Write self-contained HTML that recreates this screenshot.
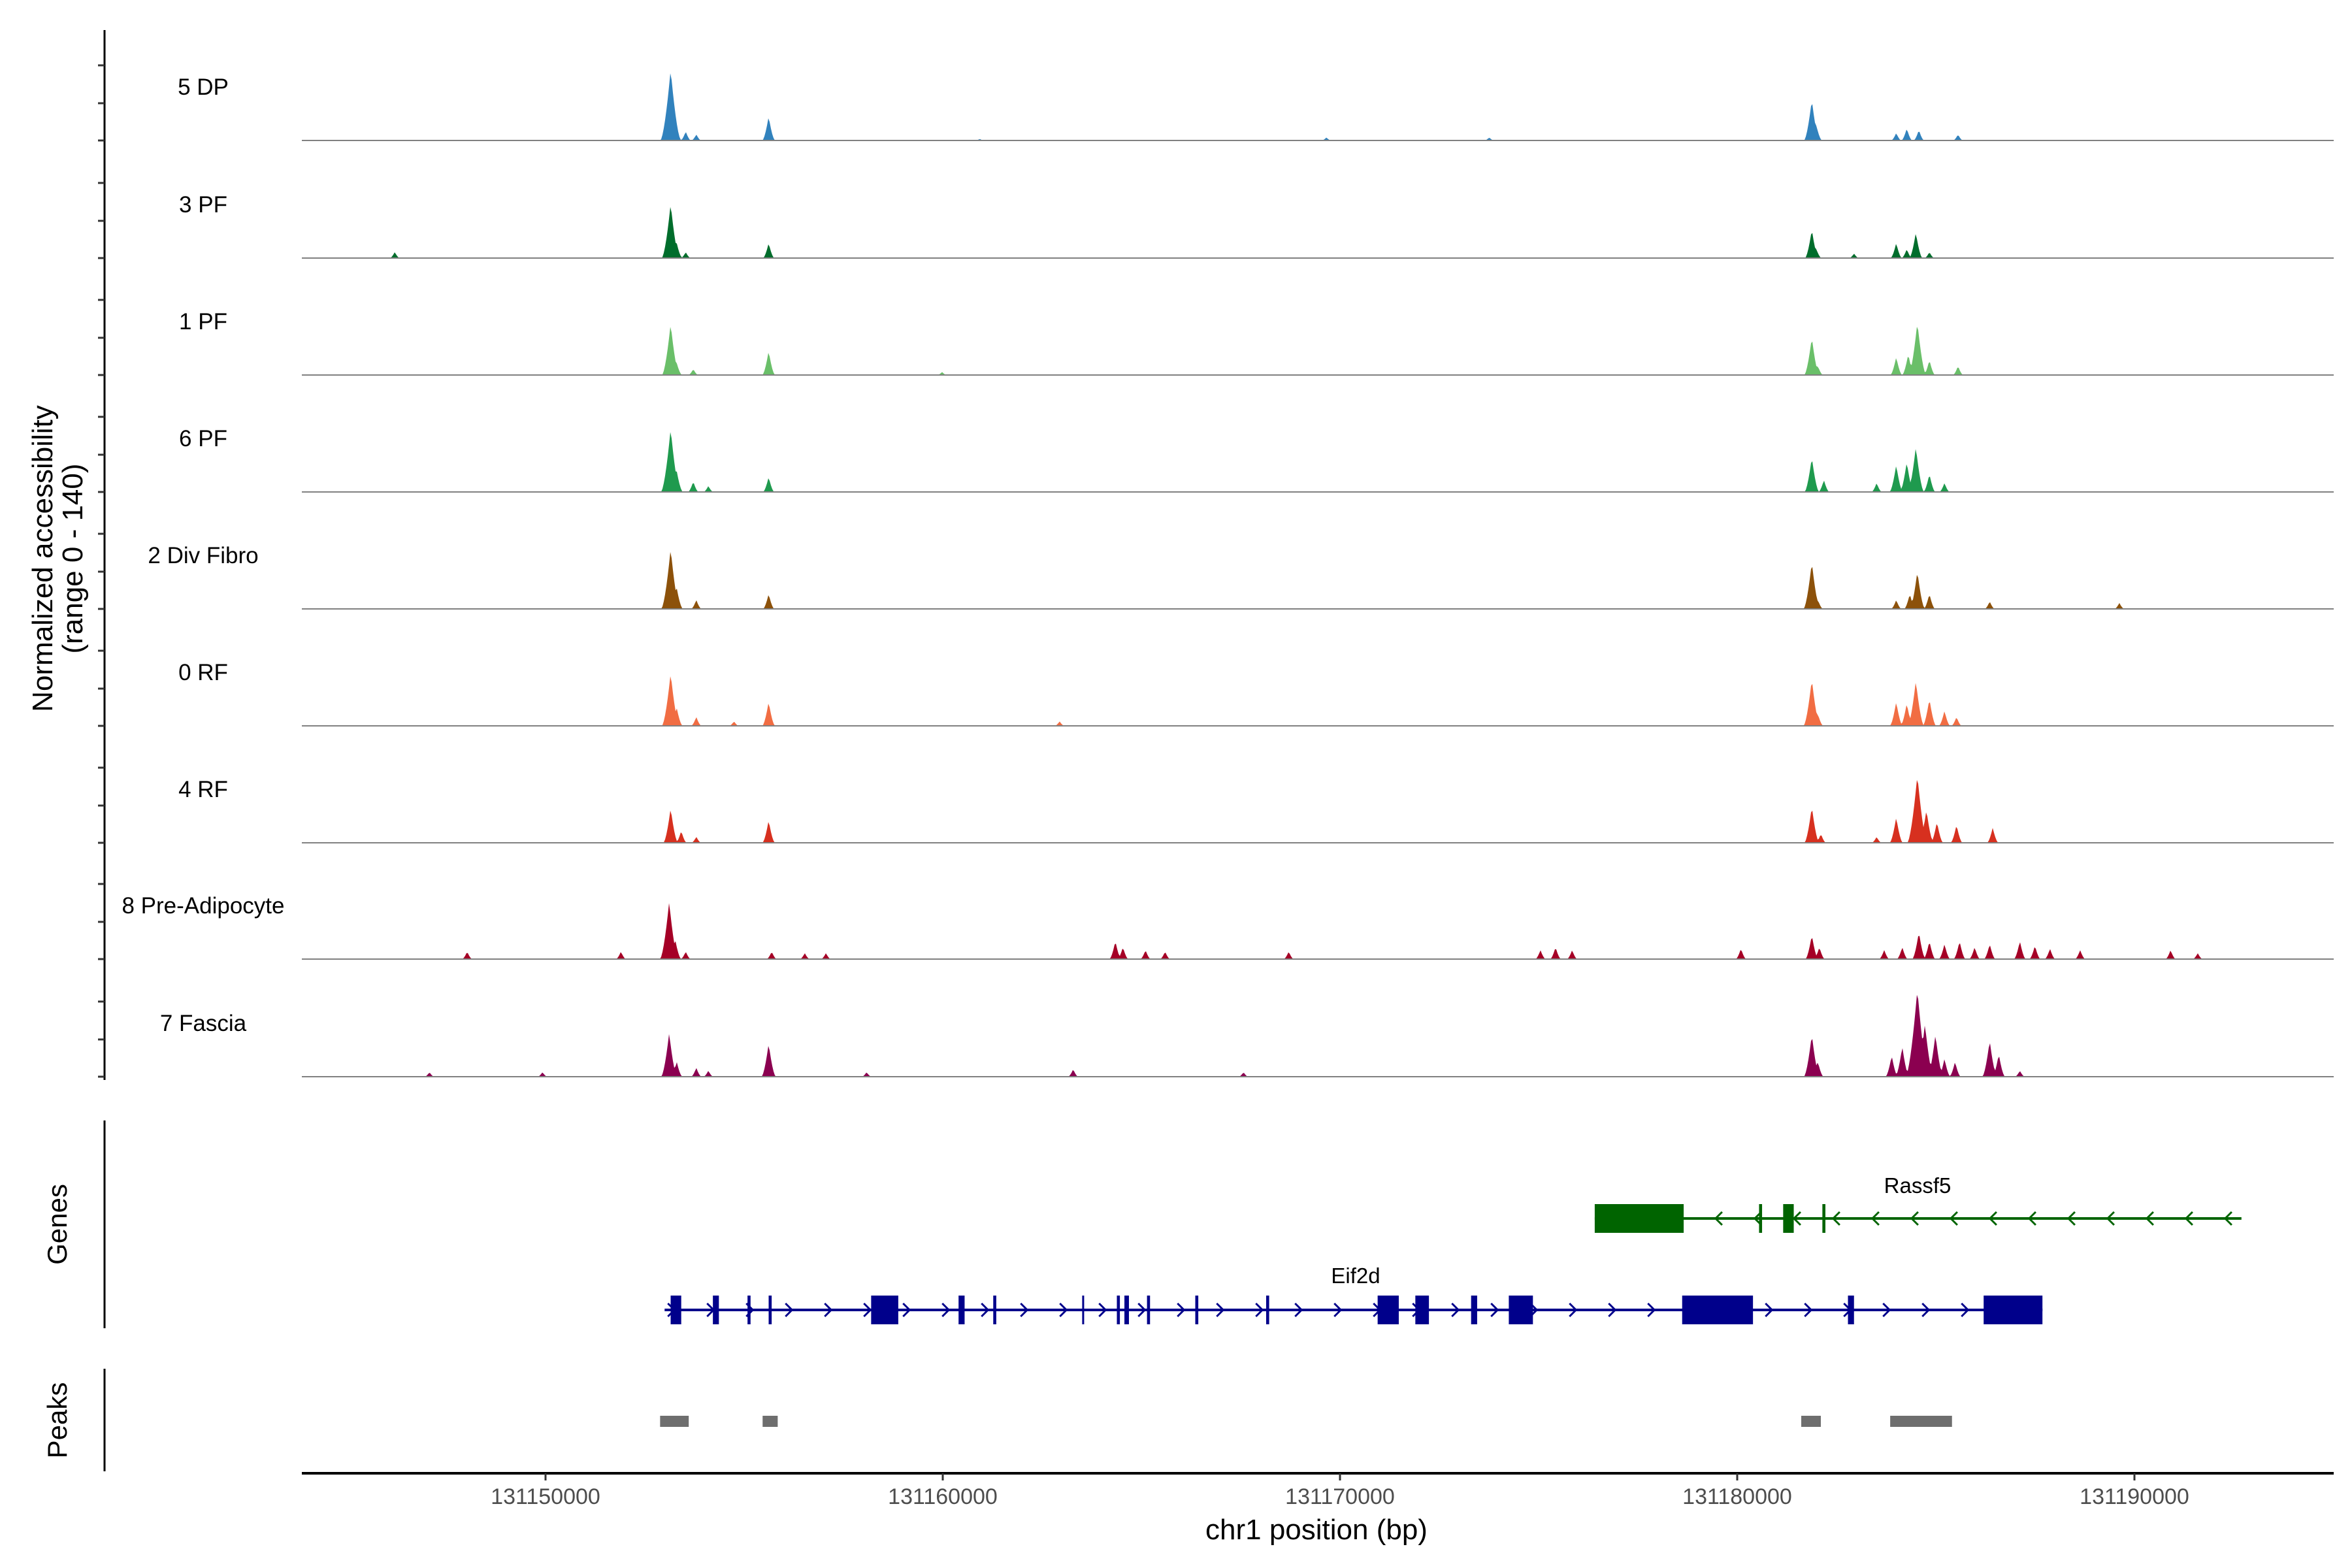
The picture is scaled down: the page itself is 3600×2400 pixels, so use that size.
<!DOCTYPE html>
<html><head><meta charset="utf-8"><style>
html,body{margin:0;padding:0;background:#fff}
svg{display:block}
text{font-family:"Liberation Sans",sans-serif}
</style></head><body>
<svg id="chart" width="3600" height="2400" viewBox="0 0 3600 2400" xmlns="http://www.w3.org/2000/svg">
<g id="tracks"></g>
<g id="yaxis"></g>
<text transform="translate(80,855) rotate(-90)" text-anchor="middle" font-size="44">Normalized accessibility</text>
<text transform="translate(126,855) rotate(-90)" text-anchor="middle" font-size="44">(range 0 - 140)</text>
<g id="genes"></g>
<line x1="160" y1="1715" x2="160" y2="2033" stroke="#000" stroke-width="3"/>
<text transform="translate(102,1874) rotate(-90)" text-anchor="middle" font-size="42">Genes</text>
<g id="peaks"></g>
<line x1="160" y1="2095" x2="160" y2="2252" stroke="#000" stroke-width="3"/>
<text transform="translate(102,2174) rotate(-90)" text-anchor="middle" font-size="42">Peaks</text>
<g id="xaxis"></g>
<text x="2015" y="2356" text-anchor="middle" font-size="44">chr1 position (bp)</text>
</svg>
<script>
const trackNames = ["5 DP","3 PF","1 PF","6 PF","2 Div Fibro","0 RF","4 RF","8 Pre-Adipocyte","7 Fascia"];
const trackColors = ["#3182bd","#006d2c","#6abf69","#1f9a4e","#8c510a","#f16d43","#d7301f","#a50026","#8b0050"];
// peaks per track: [position, kb offset from 131000000, value 0-140]
const peaks5DP = [[153.150,94],[153.264,30],[153.529,12],[153.795,8],[155.617,32],[160.930,2],[169.658,4],[173.757,4],[181.878,54],[181.992,20],[184.003,10],[184.269,16],[184.573,14],[185.559,8]];
const peaks3PF = [[146.205,8],[153.150,72],[153.302,20],[153.529,8],[155.617,20],[181.878,38],[181.992,12],[182.941,6],[184.003,20],[184.269,12],[184.497,34],[184.838,8]];
const peaks1PF = [[153.150,68],[153.302,16],[153.719,8],[155.617,32],[159.981,4],[181.878,50],[182.030,12],[184.003,24],[184.307,28],[184.535,70],[184.838,20],[185.559,12]];
const peaks6PF = [[153.150,84],[153.302,28],[153.719,14],[154.099,8],[155.617,20],[181.878,46],[182.182,16],[183.510,12],[184.003,36],[184.269,40],[184.497,60],[184.838,24],[185.218,12]];
const peaks2Div = [[153.150,80],[153.302,28],[153.795,12],[155.617,20],[181.878,62],[182.030,12],[184.003,12],[184.345,20],[184.535,50],[184.838,20],[186.356,10],[189.620,8]];
const peaks0RF = [[153.150,70],[153.302,24],[153.795,12],[154.744,6],[155.617,32],[162.941,6],[181.878,62],[182.030,16],[184.003,32],[184.269,30],[184.497,60],[184.838,36],[185.218,20],[185.521,12]];
const peaks4RF = [[153.150,46],[153.416,16],[153.795,8],[155.617,30],[181.878,48],[182.106,12],[183.510,8],[184.003,34],[184.535,90],[184.763,44],[185.028,28],[185.521,24],[186.432,20]];
const peaksPreAd = [[148.027,10],[151.898,10],[153.112,76],[153.264,26],[153.529,10],[155.693,10],[156.527,8],[157.059,8],[164.345,24],[164.535,16],[165.104,12],[165.597,10],[168.709,10],[175.047,12],[175.427,16],[175.844,12],[180.094,14],[181.878,32],[182.068,16],[183.700,12],[184.155,16],[184.573,36],[184.838,24],[185.218,20],[185.597,24],[185.977,16],[186.356,20],[187.115,24],[187.495,18],[187.874,14],[188.633,12],[190.910,12],[191.593,8]];
const peaksFascia = [[147.078,6],[149.924,6],[153.112,58],[153.302,20],[153.795,12],[154.099,8],[155.617,44],[158.083,6],[163.283,10],[167.571,6],[181.878,56],[182.030,20],[183.889,28],[184.155,40],[184.535,116],[184.725,70],[184.990,56],[185.218,24],[185.484,20],[186.356,48],[186.584,30],[187.115,8]];
const trackPeaks = [peaks5DP,peaks3PF,peaks1PF,peaks6PF,peaks2Div,peaks0RF,peaks4RF,peaksPreAd,peaksFascia];
const xTicks = [131150000,131160000,131170000,131180000,131190000];
const xTickLabels = ["131150000","131160000","131170000","131180000","131190000"];
const eif2dRange = [131152998,131187684];
const eif2dExons = [[131153150,131153416],[131154213,131154364],[131155085,131155161],[131155617,131155693],[131158197,131158880],[131160398,131160550],[131161271,131161347],[131163510,131163548],[131164383,131164459],[131164573,131164687],[131165142,131165218],[131166357,131166433],[131168141,131168217],[131170948,131171480],[131171897,131172239],[131173301,131173453],[131174250,131174857],[131178614,131180397],[131182788,131182940],[131186204,131187684]];
const rassf5Range = [131176413,131192694];
const rassf5Exons = [[131176413,131178652],[131180550,131180626],[131181157,131181423],[131182144,131182220]];
const peakRegions = [[131152884,131153605],[131155465,131155845],[131181612,131182105],[131183851,131185407]];

const NS="http://www.w3.org/2000/svg";
const X0=462, X1=3572;
function xs(bp){return 835+(bp-131150000)*0.0608;}
function ys(v,base){return base-v*1.154;}
function mk(tag,attrs,parent){const e=document.createElementNS(NS,tag);for(const k in attrs)e.setAttribute(k,attrs[k]);parent.appendChild(e);return e;}
const baselines=[215,395,574,753,932,1111,1290,1468,1648];
const tracksG=document.getElementById('tracks');
trackNames.forEach((name,i)=>{
  const base=baselines[i];
  const g=mk('g',{},tracksG);
  
  
  const pk=trackPeaks[i];
  let d='M'+X0+','+base;
  for(let px=X0;px<=X1;px+=2){
    const kb=150+(px-835)/0.0608/1000;
    let v=0;
    pk.forEach(p=>{const hw=0.11+p[1]*0.0016;const dd=Math.abs(kb-p[0]);if(dd<hw){const val=p[1]*Math.pow(1-dd/hw,1.6);if(val>v)v=val;}});
    d+='L'+px+','+ys(v,base).toFixed(1);
  }
  d+='L'+X1+','+base+'Z';
  const area=mk('path',{d:d,fill:trackColors[i]},g);
  
  
  const bl=mk('line',{x1:X0,y1:base,x2:X1,y2:base,stroke:'#808080','stroke-width':2},g);
  
  
  const t=mk('text',{x:311,y:base-70,'text-anchor':'middle','font-size':35,fill:'#000'},g);
  t.textContent=name;
  
  
});
const yG=document.getElementById('yaxis');
mk('line',{x1:160,y1:46,x2:160,y2:1653,stroke:'#000','stroke-width':3},yG);
baselines.forEach(b=>{[0,57,115].forEach(o=>{mk('line',{x1:150,y1:b-o,x2:160,y2:b-o,stroke:'#333','stroke-width':3},yG);});});

const gG=document.getElementById('genes');
function drawGene(range,exons,y,color,dir,label,lx,ly){
  const g=mk('g',{},gG);
  
  
  mk('line',{x1:xs(range[0]),y1:y,x2:xs(range[1]),y2:y,stroke:color,'stroke-width':4},g);
  for(let x=xs(range[0])+10;x<xs(range[1]);x+=60){
    const p=dir>0?`M${x-5},${y-10}L${x+5},${y}L${x-5},${y+10}`:`M${x+5},${y-10}L${x-5},${y}L${x+5},${y+10}`;
    mk('path',{d:p,stroke:color,'stroke-width':3,fill:'none'},g);
  }
  exons.forEach(e=>{const x1=xs(e[0]),x2=xs(e[1]);mk('rect',{x:x1,y:y-22,width:Math.max(3,x2-x1),height:44,fill:color},g);});
  const t=mk('text',{x:lx,y:ly,'text-anchor':'middle','font-size':33},g);
  t.textContent=label;
}
drawGene(rassf5Range,rassf5Exons,1865,'#006400',-1,'Rassf5',2935,1826);
drawGene(eif2dRange,eif2dExons,2005,'#00008b',1,'Eif2d',2075,1964);

const pG=document.getElementById('peaks');
peakRegions.forEach(r=>{
  const rc=mk('rect',{x:xs(r[0]),y:2167,width:xs(r[1])-xs(r[0]),height:17,fill:'#6e6e6e'},pG);
  
  
});

const xG=document.getElementById('xaxis');
mk('line',{x1:X0,y1:2255,x2:X1,y2:2255,stroke:'#000','stroke-width':4},xG);
xTicks.forEach((t,i)=>{
  const x=xs(t);
  mk('line',{x1:x,y1:2255,x2:x,y2:2266,stroke:'#333','stroke-width':3},xG);
  const tx=mk('text',{x:x,y:2302,'text-anchor':'middle','font-size':34,fill:'#4d4d4d'},xG);
  tx.textContent=xTickLabels[i];
  
  
});
</script>
</body></html>
